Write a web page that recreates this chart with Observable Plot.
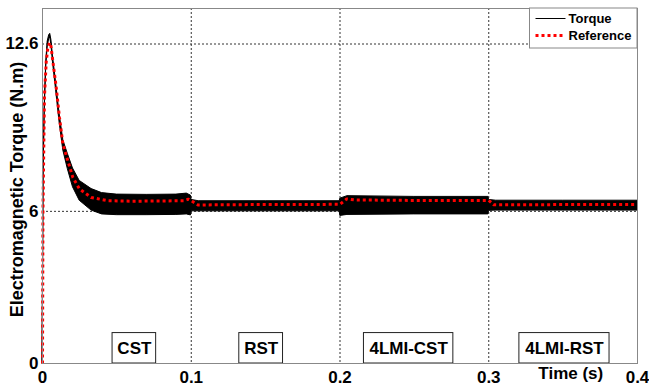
<!DOCTYPE html>
<html><head><meta charset="utf-8">
<script src="https://cdn.jsdelivr.net/npm/d3@7"></script>
<script src="https://cdn.jsdelivr.net/npm/@observablehq/plot@0.6"></script>
<style>
body{margin:0;background:#fff;}
#chart svg{display:block;}
</style></head><body><div id="chart"></div>
<script>
// Measured torque envelope (dense high-frequency ripple drawn as its min/max band)
const tTorque   = [0, 0.0004, 0.0007, 0.0015, 0.0025, 0.0035, 0.0045, 0.0052, 0.006, 0.007, 0.009, 0.0115, 0.014, 0.017, 0.0205, 0.025, 0.033, 0.04, 0.05, 0.07, 0.09, 0.097, 0.0998, 0.1002, 0.105, 0.15, 0.1998, 0.2002, 0.205, 0.25, 0.2998, 0.3002, 0.305, 0.35, 0.4];
const torqueHigh = [0, 4.0, 7.6, 10.2, 11.9, 12.7, 12.95, 13.0, 12.75, 12.15, 11.15, 9.85, 8.8, 8.27, 7.69, 7.2, 6.88, 6.72, 6.66, 6.65, 6.66, 6.7, 6.62, 6.45, 6.4, 6.4, 6.4, 6.5, 6.6, 6.57, 6.57, 6.45, 6.42, 6.42, 6.42];
const torqueLow  = [0, 3.8, 7.4, 10.0, 11.7, 12.5, 12.8, 12.85, 12.55, 11.9, 10.85, 9.5, 8.4, 7.67, 6.95, 6.42, 6.03, 5.88, 5.85, 5.85, 5.86, 5.88, 5.84, 6.0, 6.0, 6.0, 6.0, 5.82, 5.86, 5.88, 5.88, 6.02, 6.03, 6.03, 6.03];
// Reference torque
const tRef      = [0, 0.0003, 0.0013, 0.0025, 0.0035, 0.0047, 0.0055, 0.0069, 0.0092, 0.0114, 0.0137, 0.017, 0.0204, 0.0249, 0.0327, 0.044, 0.06, 0.08, 0.095, 0.098, 0.1, 0.1045, 0.12, 0.15, 0.18, 0.2, 0.2045, 0.21, 0.25, 0.28, 0.3, 0.3033, 0.32, 0.36, 0.4];
const refTorque = [0, 6.0, 10.5, 11.9, 12.4, 12.65, 12.6, 11.95, 10.9, 9.71, 8.66, 8.0, 7.34, 6.88, 6.55, 6.42, 6.40, 6.41, 6.42, 6.48, 6.42, 6.25, 6.26, 6.27, 6.27, 6.28, 6.49, 6.45, 6.43, 6.43, 6.43, 6.26, 6.26, 6.27, 6.27];
// Axes
const xTicks = [0, 0.1, 0.2, 0.3, 0.4];
const yTicks = [0, 6, 12.6];
const gridX = [0.1, 0.2, 0.3];
const gridY = [6, 12.6];
// Method annotation boxes
const methodLabels = ["CST", "RST", "4LMI-CST", "4LMI-RST"];
const methodStart  = [0.0471, 0.1323, 0.2161, 0.3206];
const methodEnd    = [0.0764, 0.1617, 0.2762, 0.3812];
const boxTop = 1.2;
const boxTextY = 0.57;
const seriesNames = ["Torque", "Reference"];
const xLabel = "Time (s)";
const yLabel = "Electromagnetic Torque (N.m)";

const FONT = "'Liberation Sans', Arial, Helvetica, sans-serif";
const idx = tTorque.map((_, i) => i);
const ridx = tRef.map((_, i) => i);
const midx = methodLabels.map((_, i) => i);

const plot = Plot.plot({
  width: 649, height: 392,
  marginLeft: 42, marginRight: 12, marginTop: 8, marginBottom: 29,
  style: {fontFamily: FONT, fontSize: "17px", fontWeight: "bold", color: "#000", background: "#fff"},
  x: {domain: [0, 0.4]},
  y: {domain: [0, 14]},
  marks: [
    Plot.ruleX(gridX, {stroke: "#333", strokeDasharray: "2,2", strokeWidth: 1}),
    Plot.ruleY(gridY, {stroke: "#333", strokeDasharray: "2,2", strokeWidth: 1}),
    Plot.areaY(idx, {x: i => tTorque[i], y1: i => torqueLow[i], y2: i => torqueHigh[i], fill: "#000", stroke: "#000", strokeWidth: 1}),
    Plot.line(ridx, {x: i => tRef[i], y: i => refTorque[i], stroke: "#f00", strokeWidth: 3, strokeDasharray: "3,3", strokeLinecap: "butt", strokeLinejoin: "miter"}),
    Plot.rect(midx, {x1: i => methodStart[i], x2: i => methodEnd[i], y1: 0, y2: boxTop, fill: "#fff", stroke: "#222", strokeWidth: 1}),
    Plot.text(midx, {x: i => (methodStart[i] + methodEnd[i]) / 2, y: boxTextY, text: i => methodLabels[i], fontSize: 17, fontWeight: "bold", fill: "#000"}),
    Plot.frame({stroke: "#888", strokeWidth: 1}),
    Plot.axisX(xTicks, {tickSize: 0, tickPadding: 7, tickFormat: d => String(d), label: null, fontSize: 17, fontWeight: "bold"}),
    Plot.axisY(yTicks, {tickSize: 0, tickPadding: 4, tickFormat: d => String(d), label: null, fontSize: 17, fontWeight: "bold"})
  ]
});

const svg = d3.select(plot);
const xs = plot.scale("x"), ys = plot.scale("y");
// axis titles
svg.append("text")
  .attr("transform", `translate(17,${(ys.apply(0) + ys.apply(14)) / 2 + 4}) rotate(-90)`)
  .attr("text-anchor", "middle").attr("dy", "0.35em")
  .style("font", `bold 18px ${FONT}`).attr("fill", "#000").text(yLabel);
svg.append("text")
  .attr("x", xs.apply(0.3555)).attr("y", ys.apply(0) + 10)
  .attr("text-anchor", "middle").attr("dy", "0.35em")
  .style("font", `bold 17px ${FONT}`).attr("fill", "#000").text(xLabel);
// legend
const lx = 529.5, ly = 8, lw = 107.5, lh = 40;
const lg = svg.append("g").attr("text-anchor", "start");
lg.append("rect").attr("x", lx).attr("y", ly).attr("width", lw).attr("height", lh)
  .attr("fill", "#fff").attr("stroke", "#888");
const styles = [{stroke: "#000", w: 1, dash: null}, {stroke: "#f00", w: 3, dash: "3,3"}];
seriesNames.forEach((name, i) => {
  const yy = ly + 10.5 + i * 17;
  lg.append("line").attr("x1", lx + 6).attr("x2", lx + 36).attr("y1", yy).attr("y2", yy)
    .attr("stroke", styles[i].stroke).attr("stroke-width", styles[i].w)
    .attr("stroke-dasharray", styles[i].dash).attr("stroke-linecap", "butt");
  lg.append("text").attr("x", lx + 39).attr("y", yy).attr("dy", "0.35em")
    .attr("text-anchor", "start")
    .style("font", `bold 13px ${FONT}`).attr("fill", "#000").text(name);
});
document.getElementById("chart").appendChild(plot);
</script></body></html>
